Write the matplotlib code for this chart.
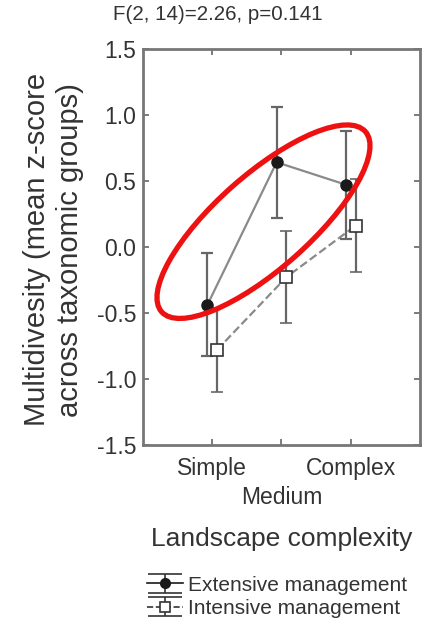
import matplotlib
matplotlib.use("Agg")
from matplotlib import pyplot as plt
from matplotlib.patches import Ellipse
from matplotlib.transforms import IdentityTransform
from matplotlib.legend_handler import HandlerErrorbar
from matplotlib.container import ErrorbarContainer
import numpy as np

plt.rcParams['font.family'] = ['Liberation Sans', 'DejaVu Sans']

levels = ["Simple", "Medium", "Complex"]
ext_mean = [-0.44, 0.64, 0.47]
ext_err = [0.39, 0.42, 0.41]
int_mean = [-0.78, -0.23, 0.16]
int_err = [0.32, 0.35, 0.35]
yticks = [-1.5, -1.0, -0.5, 0.0, 0.5, 1.0, 1.5]

txt = '#333333'
grey = '#666666'

fig = plt.figure(figsize=(4.44, 6.24), dpi=100)
ax = fig.add_axes([0.322, 0.287, 0.624, 0.635])

x = np.arange(1, 4)
ax.plot(x - 0.07, ext_mean, '-', color='#8a8a8a', lw=1.6, zorder=2)
ax.plot(x + 0.07, int_mean, '--', color='#8a8a8a', lw=1.6, zorder=2)
ax.errorbar(x - 0.07, ext_mean, yerr=ext_err, fmt='o', color='#1a1a1a',
            ms=8, ecolor=grey, elinewidth=1.6, capsize=4, capthick=1.6, zorder=3)
ax.errorbar(x + 0.07, int_mean, yerr=int_err, fmt='s', mfc='white',
            mec='#333333', mew=1.2, ms=8, ecolor=grey, elinewidth=1.6,
            capsize=4, capthick=1.6, zorder=3)

# legend proxies (wide caps like the original key)
p1 = ax.errorbar([np.nan], [np.nan], yerr=[0.1], fmt='-o', color='#1a1a1a', lw=1.2,
                 ms=7, ecolor='#333333', elinewidth=1.2, capsize=12, capthick=1.2)
p2 = ax.errorbar([np.nan], [np.nan], yerr=[0.1], fmt='--s', color='#333333', lw=1.2,
                 mfc='white', mec='#333333', mew=1.2, ms=7, ecolor='#333333',
                 elinewidth=1.2, capsize=12, capthick=1.2)

ax.set_xlim(0, 4)
ax.set_ylim(-1.5, 1.5)
ax.set_yticks(yticks)
ax.set_yticklabels(["%.1f" % v for v in yticks])
ax.set_xticks(x)
ax.set_xticklabels([])
ax.tick_params(direction='in', top=True, right=True, length=4, width=1.2,
               color=grey, labelsize=16.5, labelcolor=txt, pad=5)
for s in ax.spines.values():
    s.set_color('#777777')
    s.set_linewidth(2)

# category labels under the axis
for xi, lab in zip(x, levels):
    ax.text(xi, -1.59 if lab != "Medium" else -1.81, lab, ha='center', va='top',
            fontsize=16.5, color=txt)

fig.text(0.49, 0.977, "F(2, 14)=2.26, p=0.141", ha='center', va='center',
         fontsize=14.8, color=txt)
fig.text(0.634, 0.136, "Landscape complexity", ha='center', va='center',
         fontsize=19, color=txt)
fig.text(0.12, 0.6, "Multidivesity (mean z-score\nacross taxonomic groups)",
         rotation=90, ha='center', va='center', fontsize=21, color=txt,
         linespacing=1.25)

# red highlight ellipse
cx, cy = ax.transData.transform((1.74, 0.19))
ax.add_patch(Ellipse((cx, cy), 272, 94, angle=41.5, transform=IdentityTransform(),
                     fill=False, ec='#ee1111', lw=3.8, clip_on=False, zorder=5))

fig.legend(handles=[p1, p2], labels=["Extensive management", "Intensive management"],
           loc='upper left', bbox_to_anchor=(0.307, 0.094),
           handler_map={ErrorbarContainer: HandlerErrorbar(xerr_size=0.5, yerr_size=0.45)},
           frameon=False, fontsize=15, labelcolor=txt, handlelength=1.75,
           handletextpad=0.25, labelspacing=0.2, borderpad=0)

fig.savefig("out.png")
